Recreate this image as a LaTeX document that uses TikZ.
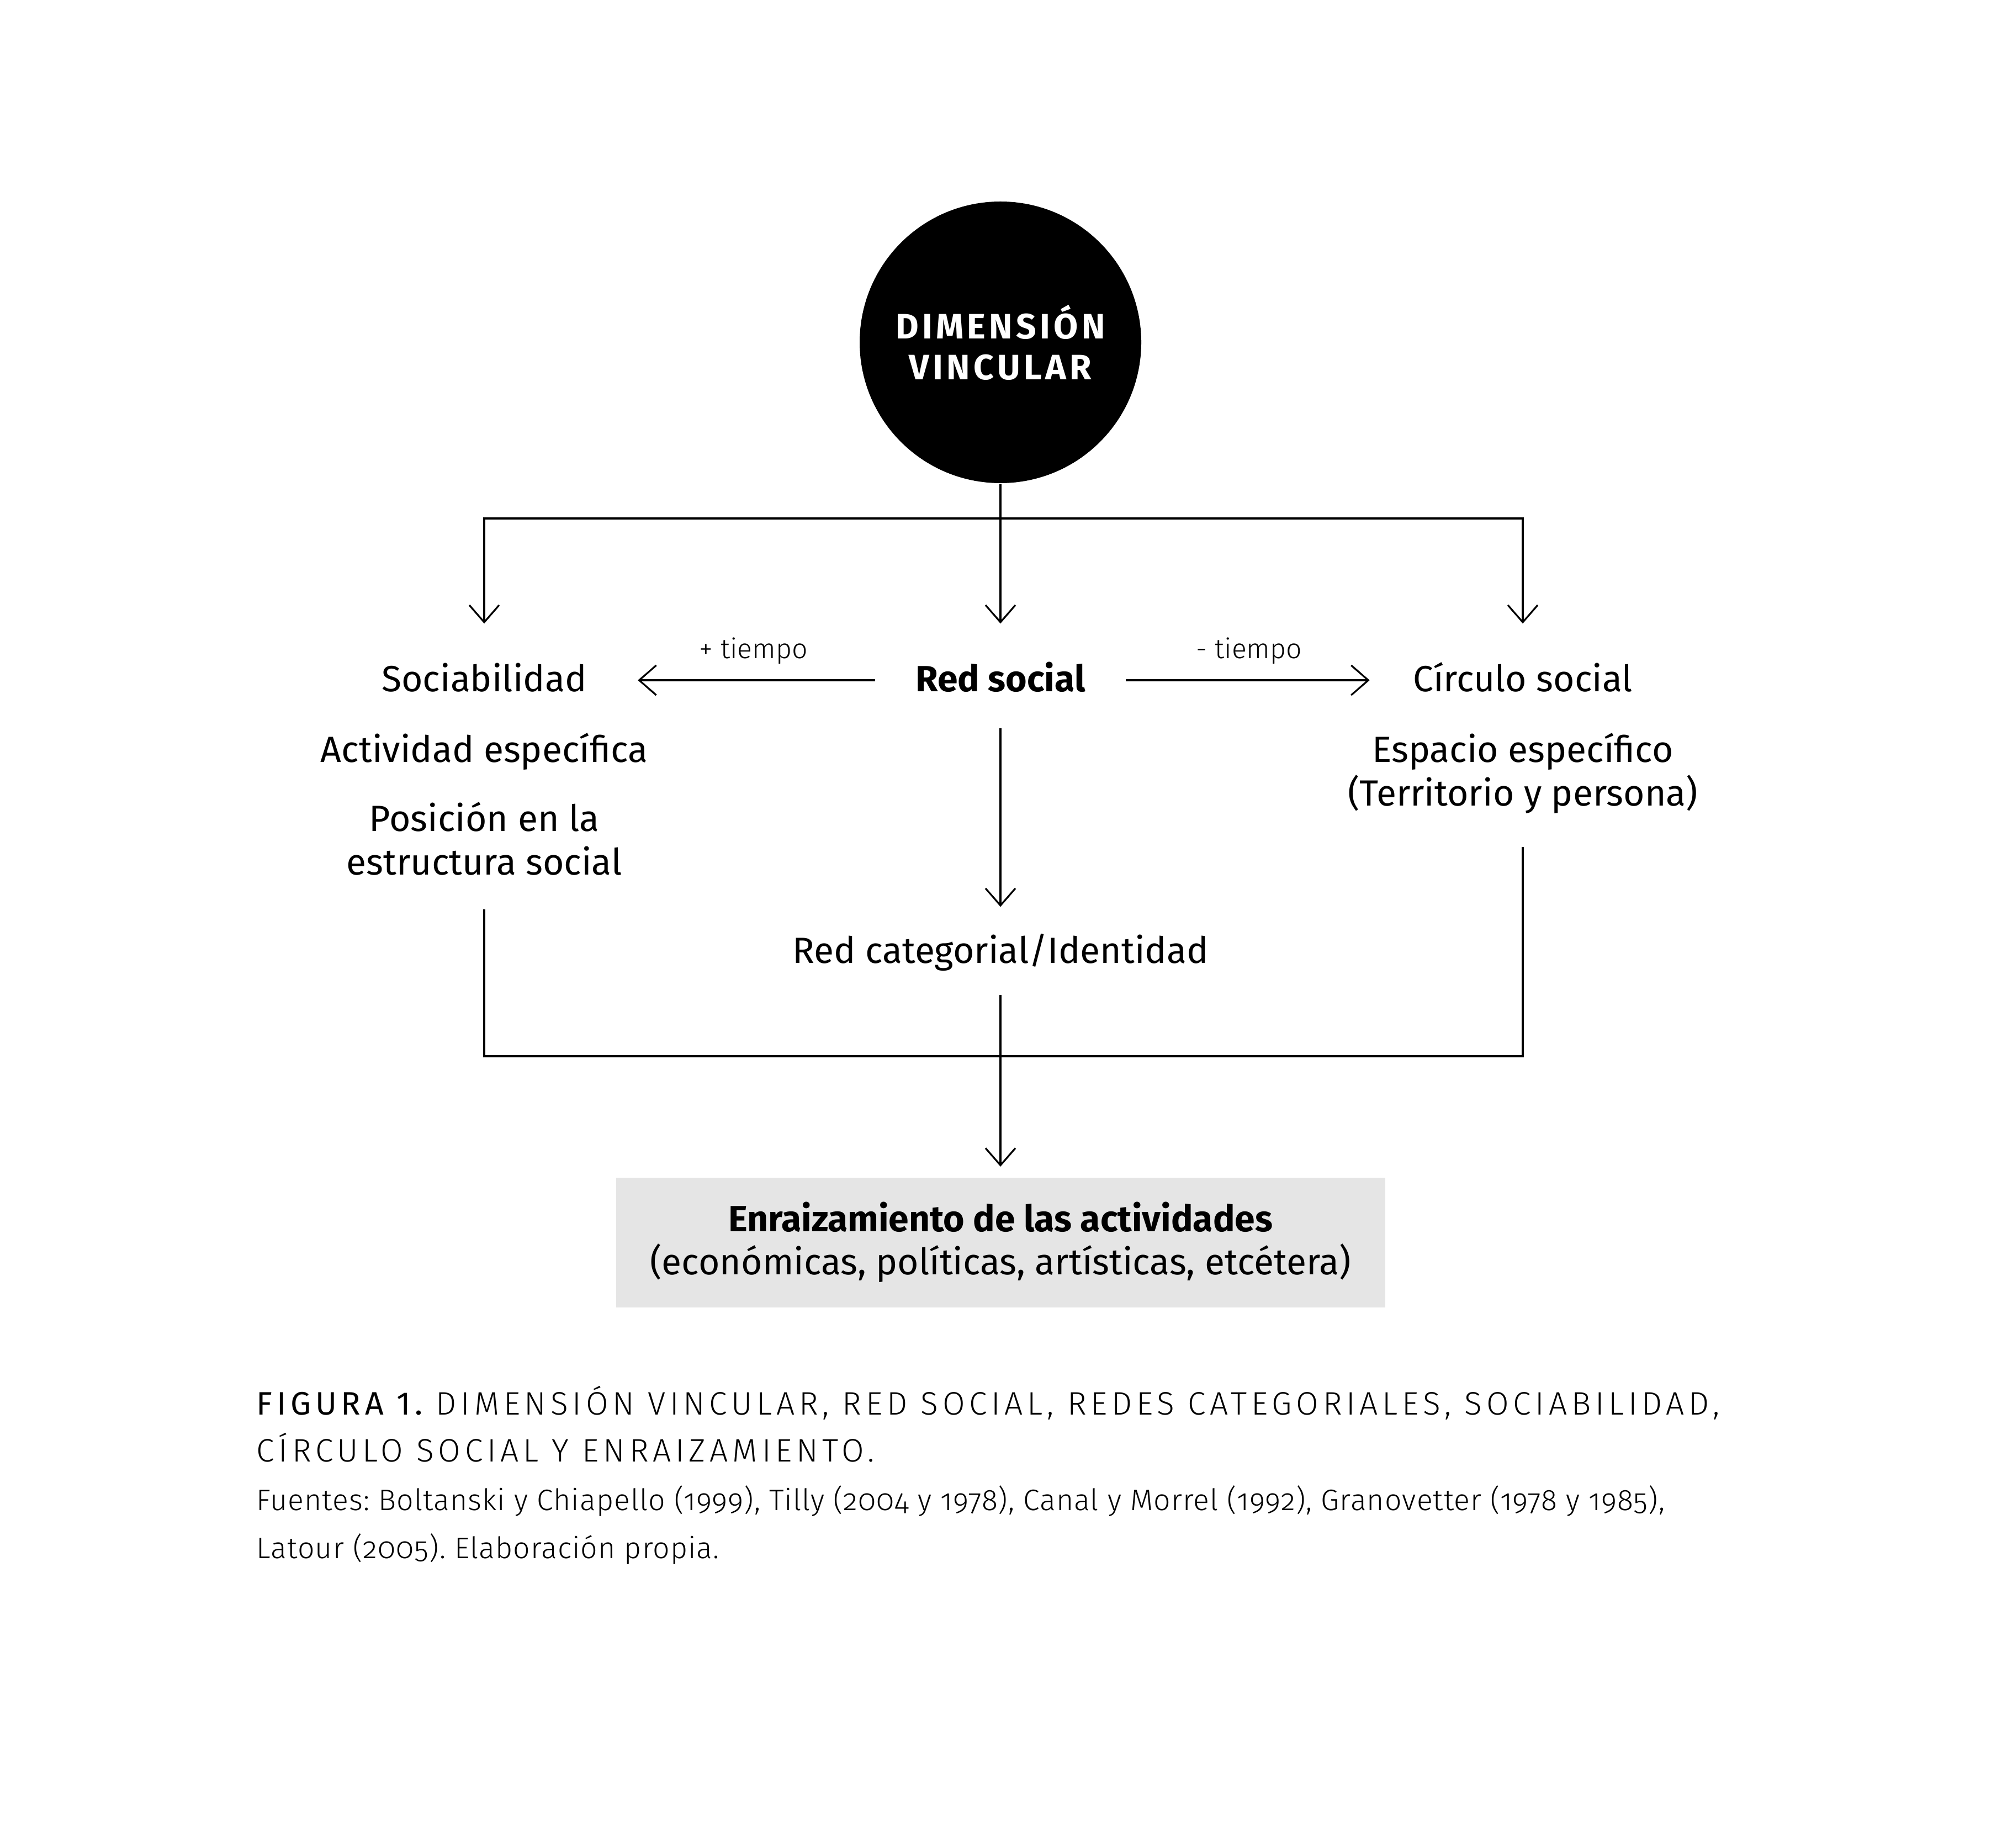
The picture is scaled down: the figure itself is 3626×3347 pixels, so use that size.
\documentclass[tikz,border=0pt]{standalone}
\usepackage{fontspec}
\setmainfont{Fira Sans}
\newfontfamily\lightfont{Fira Sans Light}[Numbers=OldStyle,LetterSpace=2]
\newfontfamily\tiempofont{Fira Sans Light}
\newfontfamily\capfont{Fira Sans Light}[LetterSpace=13.2]
\newfontfamily\capboldfont{Fira Sans}[LetterSpace=13.2]
\newfontfamily\dimfont{Fira Sans}[LetterSpace=10]
\usetikzlibrary{arrows.meta}
\frenchspacing
\tikzstyle{arrow} = [->,>={Straight Barb[length=7.75pt,width=13.5pt]}]
\tikzstyle{concept} = [inner sep=0pt,anchor=base,text height=12.5pt,text depth=2.5pt,
                       font=\fontsize{16.5}{19.75}\selectfont]
\tikzstyle{note} = [inner sep=0pt,anchor=base,align=center,font=\fontsize{16.5}{19.75}\selectfont]
\tikzstyle{timelbl} = [inner sep=0pt,text depth=0pt,above=9.5pt,font=\tiempofont\fontsize{12.5}{15}\selectfont]

\begin{document}
\begin{tikzpicture}[x=0.25pt,y=-0.25pt,line width=0.8pt]
    \useasboundingbox (0,0) rectangle (3626,3347);
    \node[circle,fill=black,text=white,minimum size=127.5pt,inner sep=0pt,align=center,
        font=\dimfont\bfseries\fontsize{16}{18.5}\selectfont]
        (dim) at (1812,620) {DIMENSIÓN\\VINCULAR};
    \node[concept] (socb) at (877,1252) {Sociabilidad};
    \node[concept] (red) at (1812,1252) {\bfseries Red social};
    \node[concept] (circ) at (2758,1252) {Círculo social};
    % multi-line notes sit on their last baseline
    \node[note] (act) at (877,1380) {Actividad específica};
    \node[note] (pos) at (877,1584) {Posición en la\\estructura social};
    \node[note] (esp) at (2758,1459) {Espacio específico\\(Territorio y persona)};
    \node[concept] (cat) at (1812,1744) {Red categorial/Identidad};
    \node[fill=gray!20,minimum width=348.25pt,minimum height=58.75pt,inner sep=0pt,align=center,
        font=\fontsize{16.5}{19.5}\selectfont]
        (enr) at (1812,2250) {\bfseries Enraizamiento de las actividades\\(económicas, políticas, artísticas, etcétera)};
    \coordinate (fork) at (1812,939);
    \coordinate (join) at (1812,1913);

    \draw (dim.south) -- (fork);
    \draw[arrow,shorten >=17.75pt] (fork) -| (socb.north);
    \draw[arrow,shorten >=17.75pt] (fork) -- (red.north);
    \draw[arrow,shorten >=17.75pt] (fork) -| (circ.north);
    \draw[arrow,shorten <=18pt,shorten >=22.75pt] (red) -- node[timelbl,xshift=1pt] {+ tiempo} (socb);
    \draw[arrow,shorten <=18pt,shorten >=19.25pt] (red) -- node[timelbl] {- tiempo} (circ);
    \draw[arrow,shorten <=13.75pt,shorten >=12.5pt] (red) -- (cat);
    \draw[shorten <=15.25pt,shorten >=14.75pt] (pos.south) |- (join) -| (esp.south);
    \draw[shorten <=11.5pt] (cat) -- (join);
    \draw[arrow,shorten >=4.5pt] (join) -- (enr);

    \node[anchor=base west,inner sep=0pt,align=left,font=\capfont\fontsize{14.7}{21.25}\selectfont]
        (capt) at (463,2647) {{\capboldfont FIGURA 1.} DIMENSIÓN VINCULAR, RED SOCIAL, REDES CATEGORIALES, SOCIABILIDAD,\\CÍRCULO SOCIAL Y ENRAIZAMIENTO.};
    \node[anchor=base west,inner sep=0pt,align=left,font=\lightfont\fontsize{13.4}{21.75}\selectfont]
        (src) at (463,2822) {Fuentes: Boltanski y Chiapello (1999), Tilly (2004 y 1978), Canal y Morrel (1992), Granovetter (1978 y 1985),\\Latour (2005). Elaboración propia.};
\end{tikzpicture}
\end{document}
